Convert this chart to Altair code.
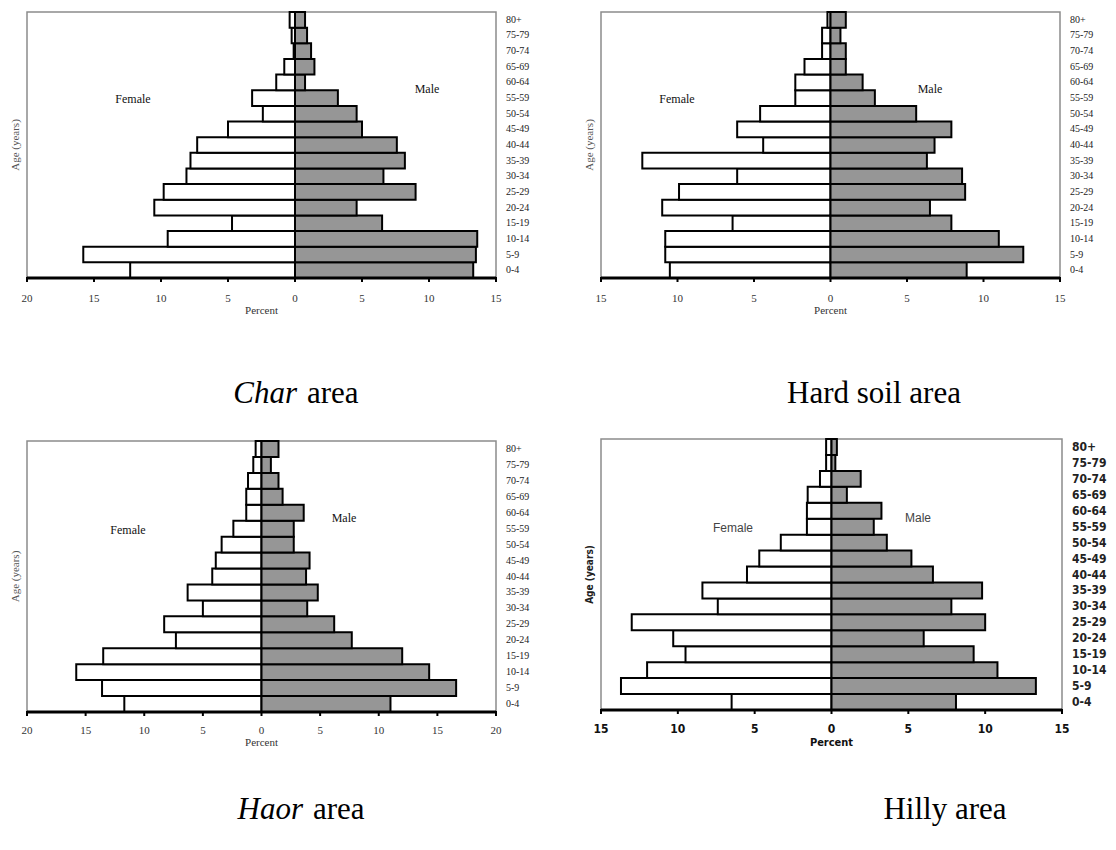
import altair as alt
import pandas as pd

# Age groups, youngest first
AGE_GROUPS = ["0-4", "5-9", "10-14", "15-19", "20-24", "25-29", "30-34", "35-39",
              "40-44", "45-49", "50-54", "55-59", "60-64", "65-69", "70-74", "75-79", "80+"]

# Percent of population in each age group (same order as AGE_GROUPS)
CHAR_FEMALE = [12.3, 15.8, 9.5, 4.7, 10.5, 9.8, 8.1, 7.8, 7.3, 5.0, 2.4, 3.2, 1.4, 0.8, 0.1, 0.25, 0.4]
CHAR_MALE = [13.3, 13.5, 13.6, 6.5, 4.6, 9.0, 6.6, 8.2, 7.6, 5.0, 4.6, 3.2, 0.75, 1.45, 1.2, 0.9, 0.75]

HARD_FEMALE = [10.5, 10.8, 10.8, 6.4, 11.0, 9.9, 6.1, 12.3, 4.4, 6.1, 4.6, 2.3, 2.3, 1.7, 0.55, 0.55, 0.2]
HARD_MALE = [8.9, 12.6, 11.0, 7.9, 6.5, 8.8, 8.6, 6.3, 6.8, 7.9, 5.6, 2.9, 2.1, 1.0, 1.0, 0.65, 1.0]

HAOR_FEMALE = [11.7, 13.6, 15.8, 13.5, 7.3, 8.3, 5.0, 6.3, 4.2, 3.9, 3.4, 2.4, 1.3, 1.3, 1.15, 0.7, 0.5]
HAOR_MALE = [11.0, 16.6, 14.3, 12.0, 7.7, 6.2, 3.9, 4.8, 3.8, 4.1, 2.75, 2.75, 3.6, 1.8, 1.45, 0.8, 1.45]

HILLY_FEMALE = [6.5, 13.7, 12.0, 9.5, 10.3, 13.0, 7.4, 8.4, 5.5, 4.7, 3.3, 1.6, 1.6, 1.55, 0.75, 0.35, 0.35]
HILLY_MALE = [8.1, 13.3, 10.8, 9.25, 6.0, 10.0, 7.8, 9.8, 6.6, 5.2, 3.6, 2.75, 3.25, 1.0, 1.9, 0.25, 0.35]

SERIF = "Liberation Serif, Times New Roman, serif"
NARROW_BOLD = "DejaVu Sans Condensed, Liberation Sans Narrow, Arial Narrow, sans-serif"
SANS = "Liberation Sans, Arial, sans-serif"

SERIF_STYLE = dict(tick_font=SERIF, tick_size=11, tick_weight="normal", tick_color="#333333",
                   age_font=SERIF, age_size=10, age_weight="normal",
                   label_font=SERIF, label_size=12, label_color="#111111",
                   title_font=SERIF, title_size=11, title_weight="normal", title_color="#555555")
BOLD_STYLE = dict(tick_font=NARROW_BOLD, tick_size=12, tick_weight="bold", tick_color="#111111",
                  age_font=NARROW_BOLD, age_size=12, age_weight="bold",
                  label_font=SANS, label_size=12, label_color="#444444",
                  title_font=NARROW_BOLD, title_size=10, title_weight="bold", title_color="#222222")


def pyramid(female, male, x_domain, box, style, label_pos, tick_y, percent_y):
    x0, x1, y0, y1 = box
    df = pd.DataFrame({
        "age": AGE_GROUPS * 2,
        "sex": ["Female"] * len(AGE_GROUPS) + ["Male"] * len(AGE_GROUPS),
        "value": [-v for v in female] + list(male),
    })
    xs = alt.Scale(domain=x_domain, range=[x0, x1], nice=False, zero=False)
    ys = alt.Scale(domain=AGE_GROUPS[::-1], range=[y0, y1], paddingInner=0, paddingOuter=0)

    frame = alt.Chart(pd.DataFrame({"a": [0]})).mark_rect(
        fill="white", stroke="#8c8c8c", strokeWidth=1.5
    ).encode(
        x=alt.X("lo:Q", scale=xs, axis=None), x2="hi:Q",
        y=alt.value(y0), y2=alt.value(y1),
    ).transform_calculate(lo=str(x_domain[0]), hi=str(x_domain[1]))

    bars = alt.Chart(df).mark_bar(stroke="black", strokeWidth=2).encode(
        x=alt.X("value:Q", scale=xs, axis=None),
        x2=alt.datum(0),
        y=alt.Y("age:N", scale=ys, axis=None),
        fill=alt.Fill("sex:N", scale=alt.Scale(domain=["Female", "Male"], range=["white", "#969696"]),
                      legend=None),
    )

    ticks = list(range(x_domain[0], x_domain[1] + 1, 5))
    tdf = pd.DataFrame({"t": ticks, "lab": [str(abs(t)) for t in ticks]})
    axis_line = alt.Chart(pd.DataFrame({"a": [0]})).mark_rule(color="black", strokeWidth=3).encode(
        x=alt.X("lo:Q", scale=xs, axis=None), x2="hi:Q", y=alt.value(y1),
    ).transform_calculate(lo=str(x_domain[0]), hi=str(x_domain[1]))
    tick_marks = alt.Chart(tdf).mark_rule(color="black", strokeWidth=2).encode(
        x=alt.X("t:Q", scale=xs, axis=None), y=alt.value(y1 - 1), y2=alt.value(y1 + 4),
    )
    tick_labels = alt.Chart(tdf).mark_text(
        font=style["tick_font"], fontSize=style["tick_size"], fontWeight=style["tick_weight"],
        color=style["tick_color"], baseline="middle", align="center",
    ).encode(x=alt.X("t:Q", scale=xs, axis=None), y=alt.value(tick_y), text="lab:N")

    age_labels = alt.Chart(pd.DataFrame({"age": AGE_GROUPS})).mark_text(
        font=style["age_font"], fontSize=style["age_size"], fontWeight=style["age_weight"],
        color="#222222", align="left", baseline="middle",
    ).encode(x=alt.value(x1 + 10), y=alt.Y("age:N", scale=ys, axis=None), text="age:N")

    (fx, fy), (mx, my) = label_pos
    sex_labels = alt.Chart(pd.DataFrame({
        "lab": ["Female", "Male"], "px": [fx, mx], "py": [fy, my],
    })).mark_text(
        font=style["label_font"], fontSize=style["label_size"], color=style["label_color"],
        align="center", baseline="middle",
    ).encode(x=alt.X("px:Q", scale=None), y=alt.Y("py:Q", scale=None), text="lab:N")

    percent = alt.Chart(pd.DataFrame({"lab": ["Percent"]})).mark_text(
        font=style["title_font"], fontSize=style["title_size"] + (1 if style["title_weight"] == "bold" else 0),
        fontWeight=style["title_weight"], color=style["tick_color"], align="center", baseline="middle",
    ).encode(x=alt.value((x0 + x1) / 2), y=alt.value(percent_y), text="lab:N")

    age_title = alt.Chart(pd.DataFrame({"lab": ["Age (years)"]})).mark_text(
        font=style["title_font"], fontSize=style["title_size"], fontWeight=style["title_weight"],
        color=style["title_color"], angle=270, align="center", baseline="middle",
    ).encode(x=alt.value(x0 - 11), y=alt.value((y0 + y1) / 2), text="lab:N")

    return alt.layer(frame, bars, axis_line, tick_marks, tick_labels, age_labels,
                     sex_labels, percent, age_title)


def caption(parts, y):
    layers = []
    for text, px, align, style in parts:
        layers.append(alt.Chart(pd.DataFrame({"lab": [text]})).mark_text(
            font=SERIF, fontSize=31, fontStyle=style, color="black", align=align, baseline="alphabetic",
        ).encode(x=alt.value(px), y=alt.value(y), text="lab:N"))
    return layers


char = pyramid(CHAR_FEMALE, CHAR_MALE, [-20, 15], (27, 496, 12, 278), SERIF_STYLE,
               ((133, 99), (427, 89)), 299, 311)
hard = pyramid(HARD_FEMALE, HARD_MALE, [-15, 15], (601, 1060, 12, 278), SERIF_STYLE,
               ((677, 99), (930, 89)), 299, 311)
haor = pyramid(HAOR_FEMALE, HAOR_MALE, [-20, 20], (27, 496, 441, 712), SERIF_STYLE,
               ((128, 530), (344, 518)), 731, 743)
hilly = pyramid(HILLY_FEMALE, HILLY_MALE, [-15, 15], (601, 1062, 439, 710), BOLD_STYLE,
                ((733, 528), (918, 518)), 729, 743)

captions = (
    caption([("Char", 297, "right", "italic"), ("area", 307, "left", "normal")], 403)
    + caption([("Hard soil area", 874, "center", "normal")], 403)
    + caption([("Haor", 303, "right", "italic"), ("area", 313, "left", "normal")], 819)
    + caption([("Hilly area", 945, "center", "normal")], 819)
)

chart = alt.layer(char, hard, haor, hilly, *captions).resolve_scale(
    x="independent", y="independent"
).properties(
    width=1116, height=850, autosize=alt.AutoSizeParams(type="none"), padding=0, background="white",
).configure_view(stroke=None)

chart.save("out.html", embed_options={"renderer": "svg", "actions": False})
